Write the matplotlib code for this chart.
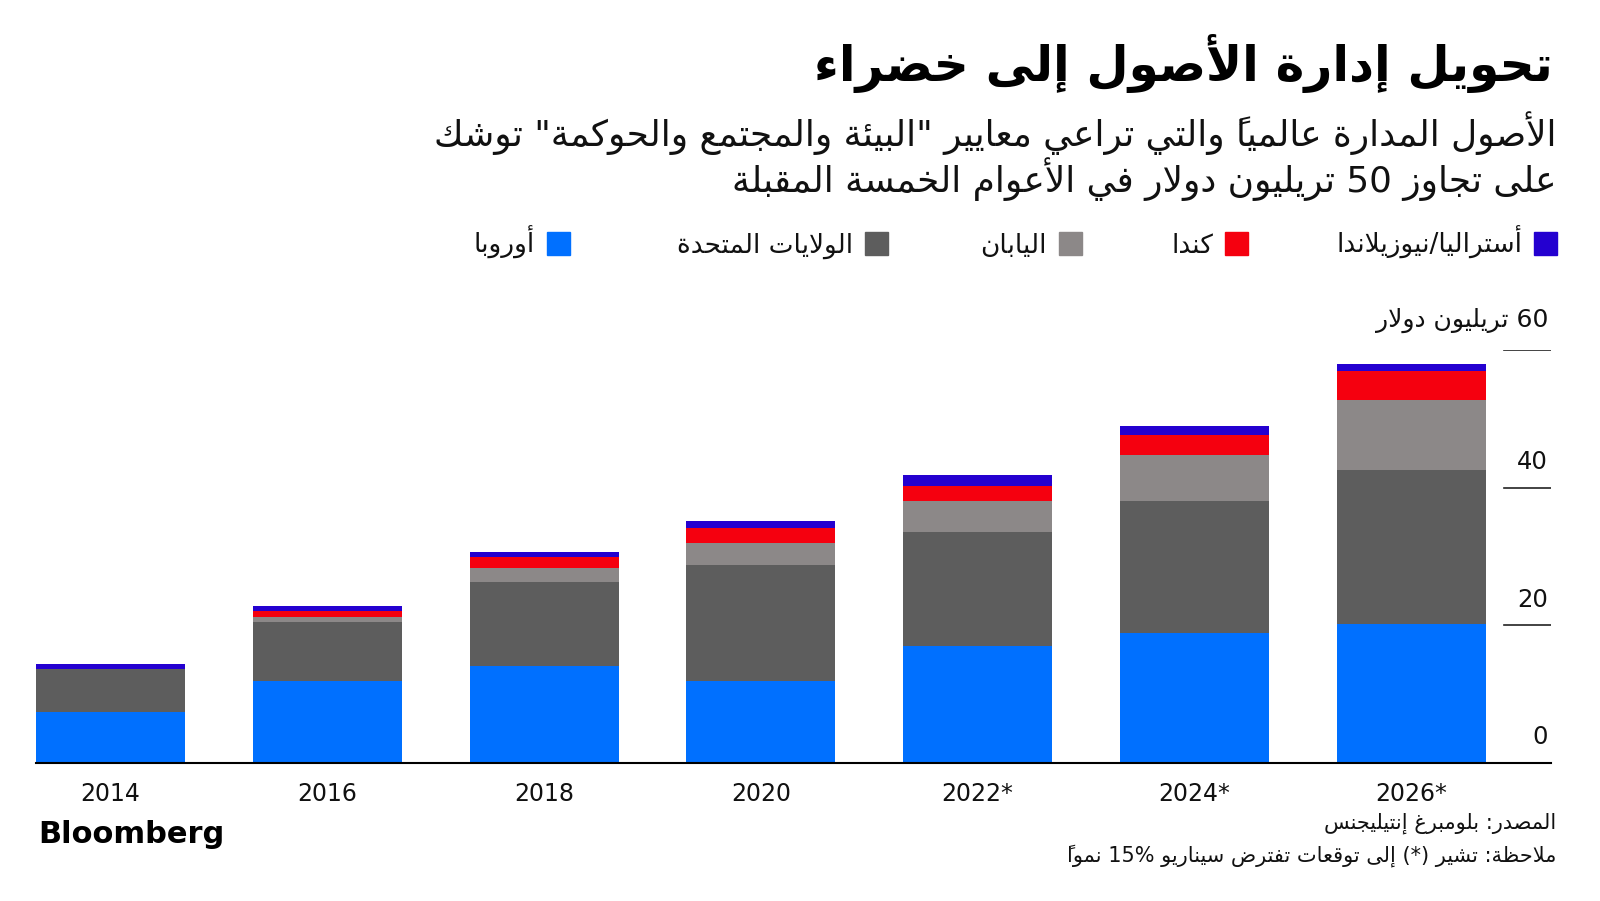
import re
import matplotlib
matplotlib.use("Agg")
import matplotlib.pyplot as plt
import numpy as np

# ---- data (trillion USD) ----
years = ["2014", "2016", "2018", "2020", "2022*", "2024*", "2026*"]
europe = [7.4, 11.9, 14.1, 11.9, 17.0, 18.9, 20.2]
usa = [6.3, 8.6, 12.2, 16.9, 16.5, 19.1, 22.3]
japan = [0.0, 0.7, 2.1, 3.1, 4.6, 6.8, 10.3]
canada = [0.0, 0.9, 1.6, 2.3, 2.2, 2.9, 4.1]
australia = [0.7, 0.7, 0.7, 1.0, 1.6, 1.2, 1.0]

series_names = ["أوروبا", "الولايات المتحدة", "اليابان", "كندا", "أستراليا/نيوزيلاندا"]
series_colors = ["#0070ff", "#5d5d5d", "#8c8888", "#f5000f", "#2400d0"]
yticks = [0, 20, 40, 60]

title = "تحويل إدارة الأصول إلى خضراء"
subtitle1 = "الأصول المدارة عالمياً والتي تراعي معايير \"البيئة والمجتمع والحوكمة\" توشك"
subtitle2 = "على تجاوز 50 تريليون دولار في الأعوام الخمسة المقبلة"
unit_label = "60 تريليون دولار"
source = "المصدر: بلومبرغ إنتيليجنس"
note = "ملاحظة: تشير (*) إلى توقعات تفترض سيناريو 15% نمواً"


# ---- minimal Arabic shaping + RTL ordering (matplotlib has none) ----
LETTERS = "ءآأؤإئابةتثجحخدذرزسشصضطظعغفقكلمنهوىي"
RIGHT = set("آأؤإادذرزةوى")
FORMS = {}
cp = 0xFE80
for ch in LETTERS:
    n = 1 if ch == "ء" else 2 if ch in RIGHT else 4
    FORMS[ch] = [chr(cp + k) for k in range(n)]
    cp += n
LAM_ALEF = {"آ": 0xFEF5, "أ": 0xFEF7, "إ": 0xFEF9, "ا": 0xFEFB}
MARKS = set(chr(c) for c in range(0x064B, 0x0653))
MIRROR = {"(": ")", ")": "(", "[": "]", "]": "["}


def jtype(c):
    if c in FORMS:
        return {1: "U", 2: "R", 4: "D"}[len(FORMS[c])]
    return "U"


def ar(text):
    # clusters: [base, kind, marks]
    items = []
    i = 0
    while i < len(text):
        c = text[i]
        if c in MARKS and items:
            items[-1][2] += c
        elif c == "ل" and i + 1 < len(text) and text[i + 1] in LAM_ALEF:
            items.append([("LA", text[i + 1]), "LA", ""])
            i += 1
        else:
            items.append([c, jtype(c), ""])
        i += 1
    glyphs = []
    for j, (base, kind, marks) in enumerate(items):
        prev = items[j - 1][1] if j > 0 else "U"
        nxt = items[j + 1][1] if j + 1 < len(items) else "U"
        cprev = prev == "D" and kind in ("D", "R", "LA")
        cnext = kind == "D" and nxt in ("D", "R", "LA")
        if kind == "LA":
            g = chr(LAM_ALEF[base[1]] + (1 if cprev else 0))
        elif kind in ("D", "R"):
            f = FORMS[base]
            if cprev and cnext:
                g = f[3]
            elif cprev:
                g = f[1]
            elif cnext:
                g = f[2]
            else:
                g = f[0]
        else:
            g = base
        # mark goes before its base in visual order so it sits above it
        glyphs.append(marks + g)
    # bidi: keep LTR runs (digits/latin/%), reverse the rest
    tokens = []
    for g in glyphs:
        if re.fullmatch(r"[0-9A-Za-z%]", g) and tokens and tokens[-1][0] == "L":
            tokens[-1][1] += g
        elif re.fullmatch(r"[0-9A-Za-z%]", g):
            tokens.append(["L", g])
        else:
            tokens.append(["R", MIRROR.get(g, g)])
    return "".join(t[1] for t in reversed(tokens))


# ---- figure ----
W, H = 1600, 901
fig = plt.figure(figsize=(W / 100, H / 100), dpi=100)
plt.rcParams["font.family"] = ["DejaVu Sans"]


def fx(px):
    return px / W


def fy(py):
    return 1 - py / H


ax = fig.add_axes([fx(36), fy(763), fx(1551 - 36), (763 - 350) / H])

x = np.arange(len(years))
bottom = np.zeros(len(years))
for vals, col in zip([europe, usa, japan, canada, australia], series_colors):
    ax.bar(x, vals, width=0.688, bottom=bottom, color=col, linewidth=0)
    bottom += np.array(vals)

ax.set_xlim(-0.344, 6.645)
ax.set_ylim(0, 60)
for s in ["top", "left", "right"]:
    ax.spines[s].set_visible(False)
ax.spines["bottom"].set_color("black")
ax.spines["bottom"].set_linewidth(1.5)
ax.set_yticks([])
ax.set_xticks(x)
ax.set_xticklabels(years, fontsize=17, color="#111111")
ax.tick_params(axis="x", length=0, pad=14)

# short gridlines + labels on right
for t in yticks[1:]:
    ax.axhline(t, xmin=(1504 - 36) / (1551 - 36), xmax=1, color="#222222", lw=1.2)
for t in yticks[:-1]:
    ax.text(0.998, t + 2.7, str(t), transform=ax.get_yaxis_transform(),
            ha="right", va="baseline", fontsize=17.5, color="#111111")
ax.text(0.998, 60 + 3.4, ar(unit_label), transform=ax.get_yaxis_transform(),
        ha="right", va="baseline", fontsize=18, color="#111111")

# ---- titles ----
fig.text(fx(1553), fy(81), ar(title), ha="right", va="baseline",
         fontsize=35, fontweight="bold", color="black")
fig.text(fx(1557), fy(146), ar(subtitle1), ha="right", va="baseline",
         fontsize=25.8, color="#111111")
fig.text(fx(1557), fy(192), ar(subtitle2), ha="right", va="baseline",
         fontsize=25.8, color="#111111")

# ---- legend (right to left) ----
legend_sq = [1534, 1225, 1059, 865, 547]
order = [4, 3, 2, 1, 0]
for sx, k in zip(legend_sq, order):
    fig.patches.append(plt.Rectangle((fx(sx), fy(255)), 23 / W, 23 / H,
                                     transform=fig.transFigure,
                                     color=series_colors[k], figure=fig))
    fig.text(fx(sx - 12), fy(253), ar(series_names[k]), ha="right",
             va="baseline", fontsize=19, color="#111111")

# ---- footer ----
fig.text(fx(38), fy(843), "Bloomberg", ha="left", va="baseline",
         fontsize=22, fontweight="bold", color="black")
fig.text(fx(1556), fy(829), ar(source), ha="right", va="baseline",
         fontsize=15, color="#111111")
fig.text(fx(1556), fy(862), ar(note), ha="right", va="baseline",
         fontsize=15, color="#111111")

fig.savefig("out.png", dpi=100)
